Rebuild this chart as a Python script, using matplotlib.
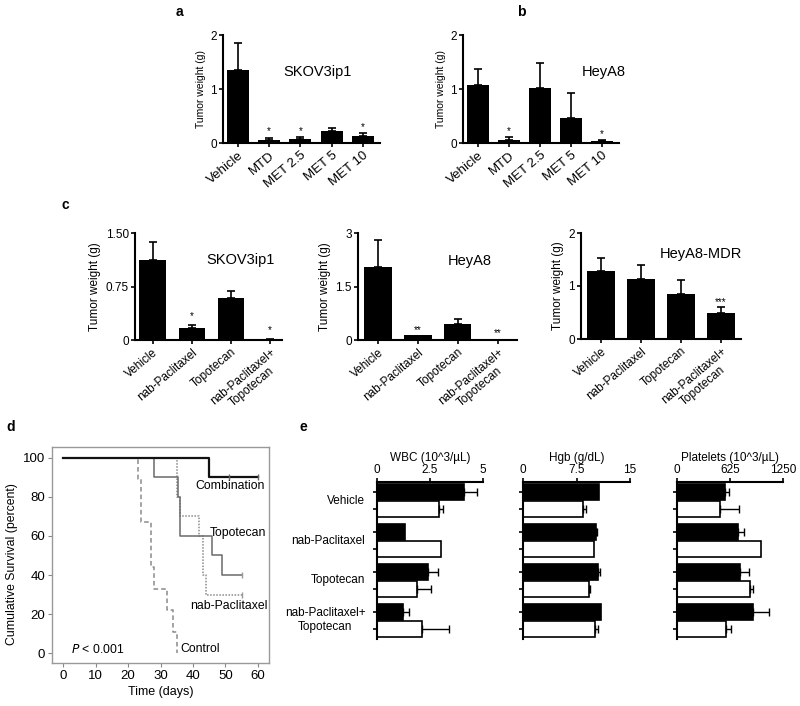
import numpy as np
import matplotlib
matplotlib.use("Agg")
import matplotlib.pyplot as plt

plt.rcParams['font.family'] = ['Liberation Sans', 'DejaVu Sans']

W, H = 800, 706

# panel a / b : metronomic dosing
ab_cats = ["Vehicle", "MTD", "MET 2.5", "MET 5", "MET 10"]
a_vals = [1.36, 0.05, 0.074, 0.22, 0.136]
a_err = [0.50, 0.05, 0.036, 0.06, 0.044]
a_star = ["", "*", "*", "", "*"]
b_vals = [1.065, 0.06, 1.02, 0.47, 0.03]
b_err = [0.305, 0.05, 0.47, 0.465, 0.02]
b_star = ["", "*", "", "", "*"]

# panel c : combination therapy
c_cats = ["Vehicle", "nab-Paclitaxel", "Topotecan", "nab-Paclitaxel+\nTopotecan"]
c1_vals = [1.12, 0.166, 0.59, 0.006]
c1_err = [0.25, 0.044, 0.10, 0.004]
c1_star = ["", "*", "", "*"]
c2_vals = [2.05, 0.14, 0.44, 0.04]
c2_err = [0.75, 0.0, 0.16, 0.0]
c2_star = ["", "**", "", "**"]
c3_vals = [1.28, 1.14, 0.85, 0.49]
c3_err = [0.25, 0.25, 0.27, 0.11]
c3_star = ["", "", "", "***"]

# panel d : survival (time, percent surviving)
comb_t = [0, 45, 60]
comb_s = [100, 90, 90]
topo_t = [0, 28, 35.5, 36, 46, 49, 55]
topo_s = [100, 90, 80, 60, 50, 40, 40]
nab_t = [0, 35, 36, 42, 43, 44, 55]
nab_s = [100, 80, 70, 60, 40, 30, 30]
ctrl_t = [0, 23, 24, 27, 28, 32, 34, 35]
ctrl_s = [100, 89, 67, 44, 33, 22, 11, 0]
comb_cens = [51, 60]

# panel e : blood counts (black / white bars)
e_groups = ["Vehicle", "nab-Paclitaxel", "Topotecan", "nab-Paclitaxel+\nTopotecan"]
wbc_blk = [4.1, 1.32, 2.4, 1.24]
wbc_blk_err = [0.6, 0, 0.48, 0.26]
wbc_wht = [2.92, 3.0, 1.88, 2.1]
wbc_wht_err = [0.18, 0, 0.67, 1.3]
hgb_blk = [10.7, 10.3, 10.5, 10.9]
hgb_blk_err = [0, 0.12, 0.3, 0]
hgb_wht = [8.4, 10.0, 9.25, 10.1]
hgb_wht_err = [0.4, 0, 0.15, 0.4]
plt_blk = [562, 719, 739, 896]
plt_blk_err = [51, 71, 106, 189]
plt_wht = [503, 987, 857, 582]
plt_wht_err = [224, 0, 39, 59]

fig = plt.figure(figsize=(W / 100, H / 100), dpi=100)


def px_axes(l, t, r, b):
    return fig.add_axes([l / W, 1 - b / H, (r - l) / W, (b - t) / H])


def bar_panel(ax, cats, vals, err, stars, ylim, yticks, yticklabels, name, namexy,
              width, xlim, fs, yfs, star_pad, star_fs, rot_fs):
    x = np.arange(len(cats))
    ax.bar(x, vals, width=width, color="black")
    for xi, v, e in zip(x, vals, err):
        if e > 0:
            ax.errorbar(xi, v, yerr=[[0], [e]], fmt="none", ecolor="black",
                        elinewidth=1.2, capsize=3, capthick=1.2)
    for xi, v, e, s in zip(x, vals, err, stars):
        if s:
            ax.annotate(s, (xi, v + e), xytext=(0, star_pad), textcoords="offset points",
                        ha="center", va="bottom", fontsize=star_fs)
    ax.set_xlim(*xlim)
    ax.set_ylim(*ylim)
    ax.set_yticks(yticks)
    ax.set_yticklabels(yticklabels, fontsize=fs)
    ax.set_xticks(x)
    ax.set_xticklabels(cats, rotation=40, ha="right", va="top",
                       rotation_mode="anchor", fontsize=rot_fs, multialignment="center")
    ax.set_ylabel("Tumor weight (g)", fontsize=yfs, labelpad=3)
    for sp in ["top", "right"]:
        ax.spines[sp].set_visible(False)
    for sp in ["left", "bottom"]:
        ax.spines[sp].set_linewidth(1.5)
    ax.tick_params(axis="both", length=3, width=1.2, pad=1.5)
    ax.text(namexy[0], namexy[1], name, transform=ax.transAxes, fontsize=10.5,
            ha="center", va="center")


# a
ax = px_axes(223, 35, 380, 143)
bar_panel(ax, ab_cats, a_vals, a_err, a_star, (0, 2), [0, 1, 2], ["0", "1", "2"],
          "SKOV3ip1", (0.6, 0.66), 0.7, (-0.48, 4.55), 8.5, 7.5, 1, 7, 9.5)
# b
ax = px_axes(463, 35, 619, 143)
bar_panel(ax, ab_cats, b_vals, b_err, b_star, (0, 2), [0, 1, 2], ["0", "1", "2"],
          "HeyA8", (0.9, 0.66), 0.7, (-0.48, 4.55), 8.5, 7.5, 1, 7, 9.5)
# c
ax = px_axes(135, 233, 282, 340)
bar_panel(ax, c_cats, c1_vals, c1_err, c1_star, (0, 1.5), [0, 0.75, 1.5],
          ["0", "0.75", "1.50"], "SKOV3ip1", (0.72, 0.75), 0.68, (-0.45, 3.3),
          8.5, 8.5, 3, 7, 8.5)
ax = px_axes(358, 233, 517, 340)
bar_panel(ax, c_cats, c2_vals, c2_err, c2_star, (0, 3), [0, 1.5, 3],
          ["0", "1.5", "3"], "HeyA8", (0.7, 0.74), 0.68, (-0.5, 3.48),
          8.5, 8.5, 0, 7, 8.5)
ax = px_axes(581, 233, 741, 339)
bar_panel(ax, c_cats, c3_vals, c3_err, c3_star, (0, 2), [0, 1, 2],
          ["0", "1", "2"], "HeyA8-MDR", (0.75, 0.8), 0.68, (-0.5, 3.5),
          8.5, 8.5, 0, 7, 8.5)

# d survival
ax = px_axes(52, 447, 269, 663)
ax.step(ctrl_t, ctrl_s, where="post", color="#8a8a8a", lw=1.1, ls=(0, (3, 2)))
ax.step(nab_t, nab_s, where="post", color="#8a8a8a", lw=1.1, ls=(0, (1, 1)))
ax.step(topo_t, topo_s, where="post", color="#6a6a6a", lw=1.1)
ax.step(comb_t, comb_s, where="post", color="#111111", lw=1.6)
ax.plot(comb_cens, [comb_s[-1]] * len(comb_cens), ls="none", marker="|",
        ms=4, color="#666666")
ax.plot([topo_t[-1]], [topo_s[-1]], ls="none", marker="|", ms=4, color="#999999")
ax.plot([nab_t[-1]], [nab_s[-1]], ls="none", marker="|", ms=4, color="#999999")
ax.set_xlim(-3.4, 63.4)
ax.set_ylim(-5.1, 105.6)
ax.set_xticks(range(0, 61, 10))
ax.set_yticks(range(0, 101, 20))
ax.tick_params(axis="both", labelsize=9.5, length=3, color="#888888", pad=2)
for sp in ax.spines.values():
    sp.set_color("#999999")
    sp.set_linewidth(1)
ax.set_xlabel("Time (days)", fontsize=9, labelpad=3)
ax.set_ylabel("Cumulative Survival (percent)", fontsize=8.8, labelpad=3)
ax.yaxis.set_label_coords(-0.155, 0.46)
ax.text(62.2, 85.6, "Combination", ha="right", va="center", fontsize=8.8)
ax.text(62.6, 61.5, "Topotecan", ha="right", va="center", fontsize=8.8)
ax.text(63, 24, "nab-Paclitaxel", ha="right", va="center", fontsize=8.8)
ax.text(36, 2, "Control", ha="left", va="center", fontsize=8.8)
ax.text(2.6, 2, "$P$ < 0.001", ha="left", va="center", fontsize=8.8)

# e blood counts
gap = 2.35
yb = np.arange(len(e_groups)) * gap
yw = yb + 1


def blood_panel(ax, blk, blk_err, wht, wht_err, xmax, xticks, xticklabels, title, labels):
    ax.barh(yb, blk, height=0.94, color="black", edgecolor="black", lw=1.2)
    ax.barh(yw, wht, height=0.94, color="white", edgecolor="black", lw=1.2)
    for ys, vals, errs in [(yb, blk, blk_err), (yw, wht, wht_err)]:
        for y, v, e in zip(ys, vals, errs):
            if e > 0:
                ax.errorbar(v, y, xerr=[[0], [e]], fmt="none", ecolor="black",
                            elinewidth=1, capsize=3, capthick=1)
    ax.set_xlim(0, xmax)
    ax.set_ylim(yw[-1] + 0.6, -0.6)
    ax.xaxis.tick_top()
    ax.set_xticks(xticks)
    ax.set_xticklabels(xticklabels, fontsize=8.5)
    ax.set_yticks(np.concatenate([yb, yw]))
    ax.set_yticklabels([])
    ax.tick_params(axis="both", length=3, width=1.2, pad=1.5)
    for sp in ["bottom", "right"]:
        ax.spines[sp].set_visible(False)
    for sp in ["top", "left"]:
        ax.spines[sp].set_linewidth(1.5)
    ax.set_title(title, fontsize=8.5, pad=2)
    if labels:
        tr = ax.get_yaxis_transform()
        for g, y0, y1 in zip(e_groups, yb, yw):
            ax.text(-0.11, (y0 + y1) / 2, g, transform=tr, ha="right", va="center",
                    fontsize=8.5, multialignment="center")


ax = px_axes(377, 482, 483, 639)
blood_panel(ax, wbc_blk, wbc_blk_err, wbc_wht, wbc_wht_err, 5, [0, 2.5, 5],
            ["0", "2.5", "5"], "WBC (10^3/\u00b5L)", True)
ax = px_axes(523, 482, 630, 639)
blood_panel(ax, hgb_blk, hgb_blk_err, hgb_wht, hgb_wht_err, 15, [0, 7.5, 15],
            ["0", "7.5", "15"], "Hgb (g/dL)", False)
ax = px_axes(677, 482, 783, 639)
blood_panel(ax, plt_blk, plt_blk_err, plt_wht, plt_wht_err, 1250, [0, 625, 1250],
            ["0", "625", "1250"], "Platelets (10^3/\u00b5L)", False)

# panel letters
for letter, (lx, ly) in {"a": (179, 12), "b": (521, 12), "c": (65, 205),
                         "d": (11, 427), "e": (303, 427)}.items():
    fig.text(lx / W, 1 - ly / H, letter, fontsize=10, fontweight="bold",
             ha="center", va="center")

fig.savefig("out.png", dpi=100)
